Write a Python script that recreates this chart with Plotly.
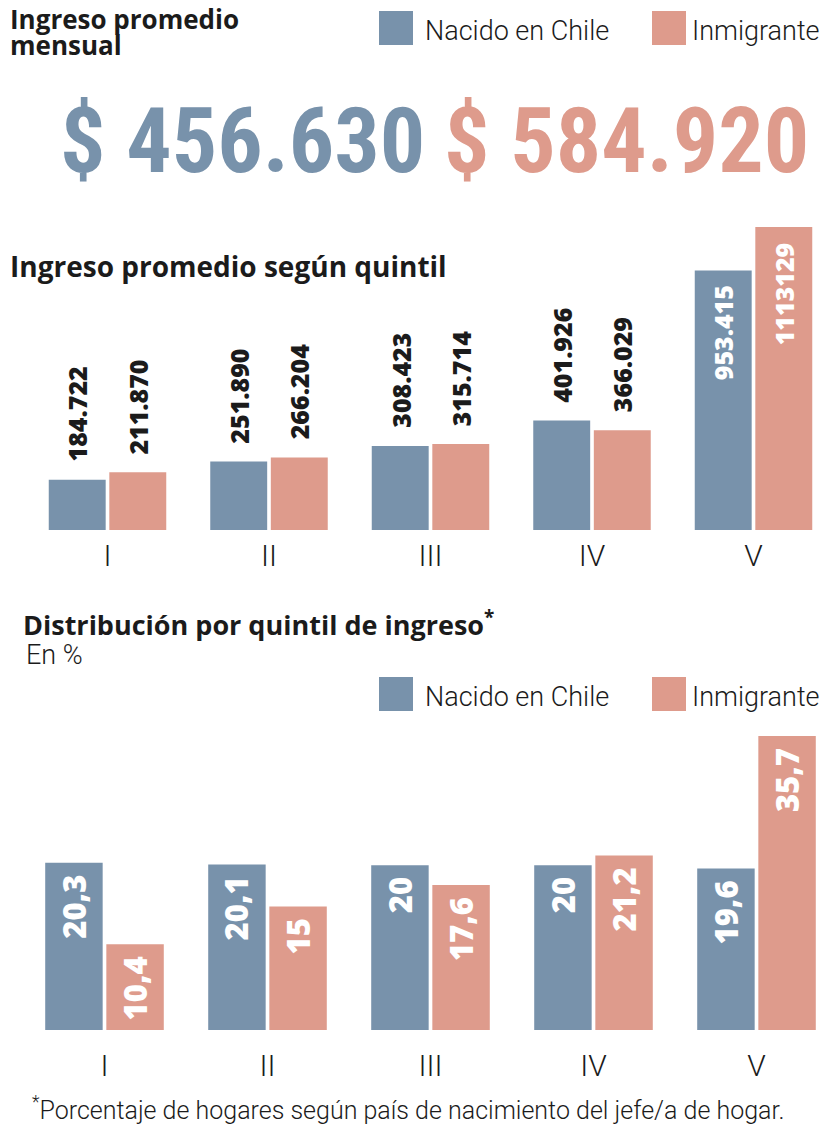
import plotly.graph_objects as go

# ---------------- data ----------------
quintiles = ["I", "II", "III", "IV", "V"]
series_names = ["Nacido en Chile", "Inmigrante"]

ingreso_chile = [184722, 251890, 308423, 401926, 953415]
ingreso_inmig = [211870, 266204, 315714, 366029, 1113129]
ingreso_chile_lbl = ["184.722", "251.890", "308.423", "401.926", "953.415"]
ingreso_inmig_lbl = ["211.870", "266.204", "315.714", "366.029", "1113129"]

dist_chile = [20.3, 20.1, 20.0, 20.0, 19.6]
dist_inmig = [10.4, 15.0, 17.6, 21.2, 35.7]
dist_chile_lbl = ["20,3", "20,1", "20", "20", "19,6"]
dist_inmig_lbl = ["10,4", "15", "17,6", "21,2", "35,7"]

promedio_chile = "$ 456.630"
promedio_inmig = "$ 584.920"

# ---------------- style ----------------
PAGE_W, PAGE_H, BODY = 840, 1132, 8          # browser body margin is 8 px
W, H = PAGE_W - 2 * BODY, PAGE_H - 2 * BODY
BLUE = "#7892AB"
PINK = "#DE9B8C"
INK = "#1b1b1b"
COND = "Roboto Condensed, Open Sans Condensed, Roboto, sans-serif"
TITLE = "Open Sans, Roboto, sans-serif"
LIGHT = "Roboto, Open Sans, sans-serif"
LABEL = "Open Sans, Roboto, sans-serif"
BARGAP = 0.25
GROUPGAP = 0.06
OFF = (1 - BARGAP) / 4


def py(p):
    return 1 - (p - BODY) / H


def px(p):
    return (p - BODY) / W


def xaxis_geom(c0, stride):
    left = c0 - stride / 2
    right = min(c0 + 4.5 * stride, PAGE_W - BODY)
    return [px(left), px(right)], [-0.5, (right - c0) / stride]


fig = go.Figure()
for vals, col, name in [(ingreso_chile, BLUE, series_names[0]), (ingreso_inmig, PINK, series_names[1])]:
    fig.add_trace(go.Bar(x=quintiles, y=vals, name=name, marker=dict(color=col, line=dict(width=0)),
                         xaxis="x", yaxis="y", showlegend=False, hoverinfo="skip"))
for vals, col, name in [(dist_chile, BLUE, series_names[0]), (dist_inmig, PINK, series_names[1])]:
    fig.add_trace(go.Bar(x=quintiles, y=vals, name=name, marker=dict(color=col, line=dict(width=0)),
                         xaxis="x2", yaxis="y2", showlegend=False, hoverinfo="skip"))

ann = []

# value labels, top chart
top_max = max(ingreso_chile + ingreso_inmig)
for vals, lbls, sign in [(ingreso_chile, ingreso_chile_lbl, -1), (ingreso_inmig, ingreso_inmig_lbl, 1)]:
    for i, (v, t) in enumerate(zip(vals, lbls)):
        inside = v > 0.7 * top_max
        ann.append(dict(x=i + sign * OFF, y=v, xref="x", yref="y", text=t, showarrow=False,
                        textangle=-90, xanchor="center",
                        yanchor="top" if inside else "bottom",
                        yshift=-13 if inside else 16,
                        font=dict(family=LABEL, size=25, weight=800,
                                  color="white" if inside else INK)))

# value labels, bottom chart (inside)
for vals, lbls, sign in [(dist_chile, dist_chile_lbl, -1), (dist_inmig, dist_inmig_lbl, 1)]:
    for i, (v, t) in enumerate(zip(vals, lbls)):
        ann.append(dict(x=i + sign * OFF, y=v, xref="x2", yref="y2", text=t, showarrow=False,
                        textangle=-90, xanchor="center", yanchor="top", yshift=-10,
                        font=dict(family=LABEL, size=31, weight=800, color="white")))


def text(x, y, t, size, weight=400, color=INK, family=LIGHT, xanchor="left"):
    ann.append(dict(x=px(x), y=py(y), xref="paper", yref="paper", text=t, showarrow=False,
                    xanchor=xanchor, yanchor="middle", align="left",
                    font=dict(family=family, size=size, weight=weight, color=color)))


# titles
text(8, 19, "Ingreso promedio", 26, 700, family=TITLE)
text(8, 45, "mensual", 26, 700, family=TITLE)
text(8, 266, "Ingreso promedio según quintil", 28, 700, family=TITLE)
text(21, 623, "Distribución por quintil de ingreso<sup>*</sup>", 27, 700, family=TITLE)
text(24, 655, "En %", 27, 300)
text(30, 1108, "<sup>*</sup>Porcentaje de hogares según país de nacimiento del jefe/a de hogar.", 25, 300)

# big numbers
text(58, 142, promedio_chile, 90, 700, BLUE, family=COND)
text(442, 142, promedio_inmig, 90, 700, PINK, family=COND)

# legends
shapes = []
for ytop in (11, 677):
    for x0, col, name, gap in [(379, BLUE, series_names[0], 44), (652, PINK, series_names[1], 38)]:
        shapes.append(dict(type="rect", xref="paper", yref="paper", x0=px(x0), x1=px(x0 + 34),
                           y0=py(ytop + 34), y1=py(ytop), fillcolor=col, line=dict(width=0)))
        text(x0 + gap, ytop + 20, name, 27, 300)

xd1, xr1 = xaxis_geom(107.5, 161.5)
xd2, xr2 = xaxis_geom(104.5, 163)
axis_common = dict(type="category", showgrid=False, zeroline=False, showline=False, ticks="",
                   tickfont=dict(family=LIGHT, size=30, weight=300, color=INK), fixedrange=True)
fig.update_layout(
    width=W, height=H, margin=dict(l=0, r=0, t=0, b=0),
    paper_bgcolor="white", plot_bgcolor="white",
    barmode="group", bargap=BARGAP, bargroupgap=GROUPGAP,
    xaxis=dict(domain=xd1, range=xr1, anchor="y", ticklabelstandoff=5, **axis_common),
    yaxis=dict(domain=[py(530), py(227)], range=[0, top_max], visible=False, fixedrange=True),
    xaxis2=dict(domain=xd2, range=xr2, anchor="y2", ticklabelstandoff=15, **axis_common),
    yaxis2=dict(domain=[py(1030), py(736)], range=[0, max(dist_chile + dist_inmig)], visible=False,
                fixedrange=True),
    annotations=ann, shapes=shapes, showlegend=False,
)

fig.write_html("out.html")
